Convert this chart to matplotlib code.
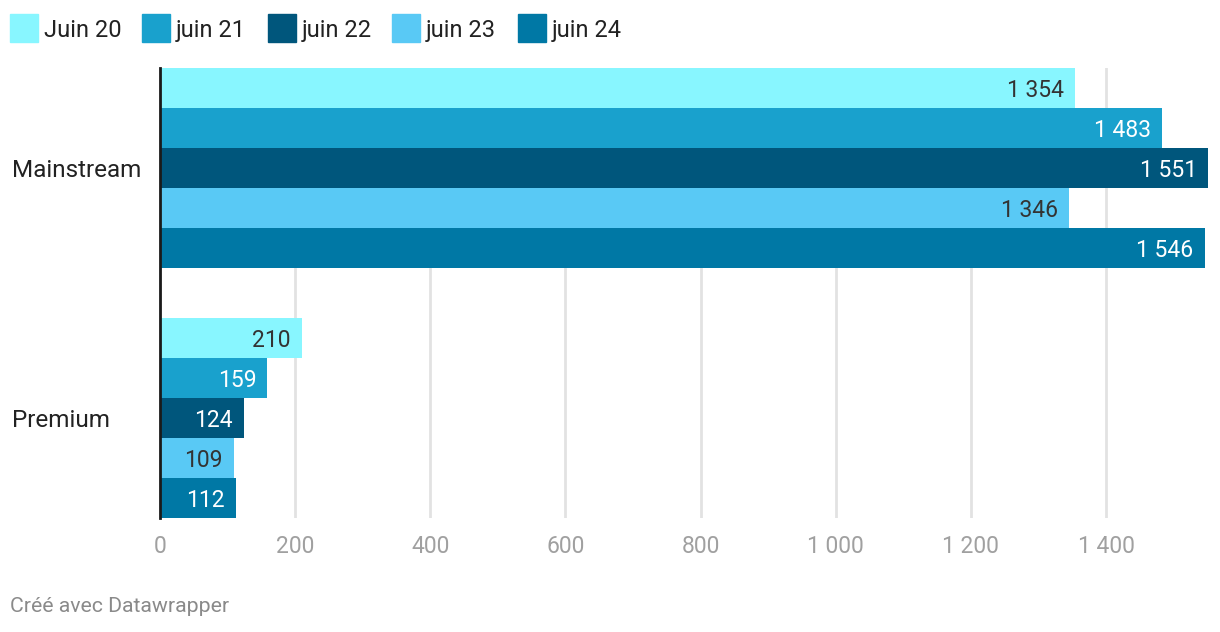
import matplotlib
matplotlib.use("Agg")
import matplotlib.pyplot as plt
from matplotlib.patches import Rectangle
from matplotlib.transforms import blended_transform_factory

# data
categories = ["Mainstream", "Premium"]
series = ["Juin 20", "juin 21", "juin 22", "juin 23", "juin 24"]
values = {
    "Juin 20": [1354, 210],
    "juin 21": [1483, 159],
    "juin 22": [1551, 124],
    "juin 23": [1346, 109],
    "juin 24": [1546, 112],
}
colors = ["#88f6ff", "#19a1cd", "#00567c", "#59c9f5", "#0078a5"]
label_colors = ["#333333", "#ffffff", "#ffffff", "#333333", "#ffffff"]
xticks = [0, 200, 400, 600, 800, 1000, 1200, 1400]


def fmt(v):
    return f"{v:,}".replace(",", " ")


plt.rcParams['font.family'] = ['Roboto', 'DejaVu Sans']

W, H = 1220, 632
fig = plt.figure(figsize=(W / 100, H / 100), dpi=100)
ax = fig.add_axes([160 / W, (H - 518) / H, 1048 / W, 450 / H])

h = 0.16
n = len(series)
for i, s in enumerate(series):
    ys = [c + (i - (n - 1) / 2) * h for c in range(len(categories))]
    ax.barh(ys, values[s], height=h, color=colors[i], zorder=2, linewidth=0)
    for y, v in zip(ys, values[s]):
        ax.annotate(fmt(v), (v, y), xytext=(-8, 0), textcoords="offset points",
                    ha="right", va="center_baseline", fontsize=16.5,
                    color=label_colors[i], zorder=3)

ax.set_ylim(len(categories) - 1 + n / 2 * h, -n / 2 * h)
ax.set_xlim(0, max(max(v) for v in values.values()))

ax.set_xticks(xticks)
ax.set_xticklabels([fmt(t) for t in xticks], fontsize=16.5, color="#a0a0a0")
ax.tick_params(axis="x", length=0, pad=12)
ax.set_yticks([])
ax.grid(axis="x", color="#e2e2e2", linewidth=2, zorder=0)
for sp in ["top", "right", "bottom"]:
    ax.spines[sp].set_visible(False)
ax.spines["left"].set_color("#1a1a1a")
ax.spines["left"].set_linewidth(2)
ax.spines["left"].set_zorder(4)

tr = blended_transform_factory(fig.transFigure, ax.transData)
for j, c in enumerate(categories):
    ax.text(12 / W, j, c, transform=tr, ha="left", va="center_baseline",
            fontsize=17.5, color="#222222")

# legend
leg_x = [10, 142, 268, 392, 518]
for i, s in enumerate(series):
    fig.patches.append(Rectangle((leg_x[i] / W, (H - 42) / H), 28 / W, 28 / H,
                                 transform=fig.transFigure, color=colors[i], figure=fig))
    fig.text((leg_x[i] + 34) / W, (H - 28) / H, s, ha="left", va="center_baseline",
             fontsize=17, color="#222222")

fig.text(10 / W, (H - 605) / H, "Créé avec Datawrapper", ha="left", va="center_baseline",
         fontsize=15.3, color="#8a8a8a")

fig.savefig("out.png", dpi=100, facecolor="white")
